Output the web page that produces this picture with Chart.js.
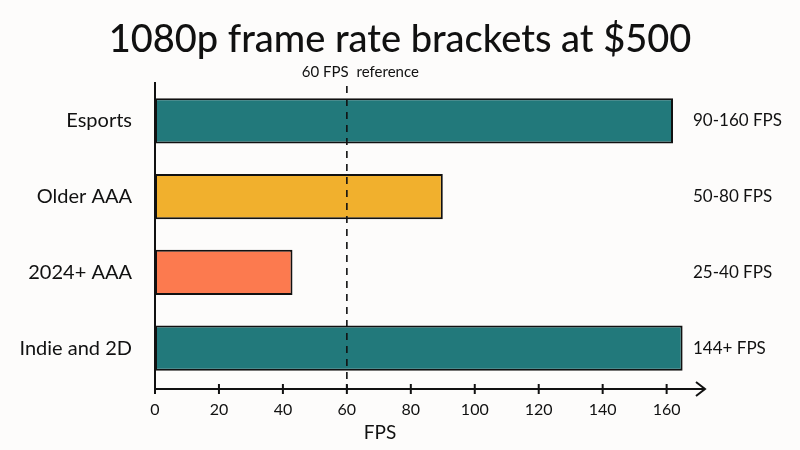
<!DOCTYPE html>
<html>
<head>
<meta charset="utf-8">
<script src="https://cdn.jsdelivr.net/npm/chart.js@4/dist/chart.umd.min.js"></script>
<style>
  body { margin: 0; background: #fdfcfb; }
  canvas { display: block; }
</style>
</head>
<body>
<canvas id="fpsChart" width="800" height="450"></canvas>
<script>
const categories = ["Esports", "Older AAA", "2024+ AAA", "Indie and 2D"];
const fpsValues = [162, 90, 43, 165];
const rangeLabels = ["90-160 FPS", "50-80 FPS", "25-40 FPS", "144+ FPS"];
const barColors = ["#22797b", "#f1b02d", "#fc7a4f", "#22797b"];
const xTicks = [0, 20, 40, 60, 80, 100, 120, 140, 160];
const referenceFps = 60;

const FONT = "Lato, 'Open Sans', sans-serif";
const INK = "#111";

// draws title, axes with tick marks, arrow, reference line and range labels
const decorations = {
  id: "decorations",
  afterDatasetsDraw(chart) {
    const { ctx, chartArea, scales } = chart;
    const x = scales.x;
    const y = scales.y;
    const axisY = chartArea.bottom + 3;

    ctx.save();
    ctx.fillStyle = INK;
    ctx.strokeStyle = INK;

    // title
    ctx.font = "500 38px " + FONT;
    ctx.textAlign = "center";
    ctx.textBaseline = "middle";
    ctx.fillText("1080p frame rate brackets at $500", 400, 40);

    // y axis line
    ctx.lineWidth = 2;
    ctx.beginPath();
    ctx.moveTo(chartArea.left, 82);
    ctx.lineTo(chartArea.left, axisY);
    ctx.stroke();

    // x axis line + arrow
    ctx.beginPath();
    ctx.moveTo(chartArea.left, axisY);
    ctx.lineTo(chartArea.right, axisY);
    ctx.stroke();
    ctx.beginPath();
    ctx.moveTo(chartArea.right - 9, axisY - 7);
    ctx.lineTo(chartArea.right, axisY);
    ctx.lineTo(chartArea.right - 9, axisY + 7);
    ctx.stroke();

    // tick marks crossing the axis
    xTicks.forEach((v) => {
      const px = x.getPixelForValue(v);
      ctx.beginPath();
      ctx.moveTo(px, axisY - 5);
      ctx.lineTo(px, axisY + 5);
      ctx.stroke();
    });

    // 60 FPS reference
    const refX = x.getPixelForValue(referenceFps);
    ctx.lineWidth = 1.6;
    ctx.setLineDash([7, 6]);
    ctx.beginPath();
    ctx.moveTo(refX, 86);
    ctx.lineTo(refX, axisY);
    ctx.stroke();
    ctx.setLineDash([]);
    ctx.font = "15px " + FONT;
    ctx.textAlign = "left";
    ctx.fillText("60 FPS", refX - 45, 72);
    ctx.fillText("reference", refX - 45 + ctx.measureText("60 FPS ").width + 4, 72);

    // range labels on the right
    ctx.font = "17px " + FONT;
    ctx.textAlign = "left";
    rangeLabels.forEach((label, i) => {
      ctx.fillText(label, 693, y.getPixelForValue(i));
    });

    // axis title
    ctx.font = "19px " + FONT;
    ctx.textAlign = "center";
    ctx.fillText("FPS", 380, 433);

    ctx.restore();
  },
};

new Chart(document.getElementById("fpsChart"), {
  type: "bar",
  data: {
    labels: categories,
    datasets: [
      {
        label: "FPS",
        data: fpsValues,
        backgroundColor: barColors,
        borderColor: INK,
        borderWidth: 2,
        borderSkipped: false,
        categoryPercentage: 1,
        barPercentage: 0.6,
      },
    ],
  },
  options: {
    indexAxis: "y",
    responsive: false,
    animation: false,
    layout: { padding: { top: 83, right: 95, left: 0, bottom: 0 } },
    plugins: {
      legend: { display: false },
      tooltip: { enabled: false },
    },
    scales: {
      x: {
        min: 0,
        max: 172,
        grid: { display: false },
        border: { display: false },
        afterFit: (scale) => { scale.height = 64; },
        afterBuildTicks: (scale) => {
          scale.ticks = xTicks.map((v) => ({ value: v }));
        },
        ticks: {
          padding: 6,
          color: INK,
          font: { family: FONT, size: 16 },
        },
      },
      y: {
        grid: { display: false },
        border: { display: false },
        afterFit: (scale) => { scale.width = 155; },
        ticks: {
          padding: 15,
          color: INK,
          font: { family: FONT, size: 20 },
        },
      },
    },
  },
  plugins: [decorations],
});
</script>
</body>
</html>
